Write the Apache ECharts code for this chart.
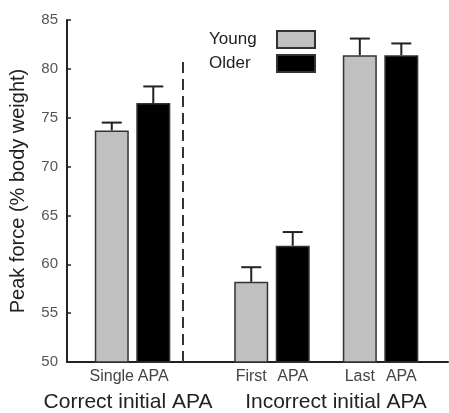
<!DOCTYPE html>
<html>
<head>
<meta charset="utf-8">
<script src="https://cdn.jsdelivr.net/npm/echarts@6/dist/echarts.min.js"></script>
<style>
  html, body { margin: 0; padding: 0; background: #fff; }
  #chart { width: 449px; height: 413px; }
</style>
</head>
<body>
<div id="chart"></div>
<script>
// values
const groups = ['Correct initial APA', 'Incorrect initial APA'];
const youngLabels = ['Single', 'First', 'Last'];
const olderLabels = ['APA', 'APA', 'APA'];
const young = [73.7, 58.2, 81.4];
const older = [76.5, 61.9, 81.4];
const youngErr = [0.8, 1.5, 1.7];
const olderErr = [1.7, 1.4, 1.2];
const yTicks = [50, 55, 60, 65, 70, 75, 80, 85];

// layout: where each condition sits on a hidden 0-100 x scale
const condPos = [17.2, 53.8, 82.3];
const dividerPos = 35.7;
const dividerTop = 81.2;
const groupCenters = [128, 336];

const FONT = '"Liberation Sans", Arial, sans-serif';
const BAR_W = 34;
const BAR_GAP = 7.5;
const HALF = (BAR_W + BAR_GAP) / 2;

const chart = echarts.init(document.getElementById('chart'));

const errData = young.map((v, i) => [condPos[i], v, youngErr[i], -1])
  .concat(older.map((v, i) => [condPos[i], v, olderErr[i], 1]));

const barLabel = (labels) => ({
  show: true,
  position: 'bottom',
  distance: 6,
  color: '#444',
  fontSize: 16,
  fontFamily: FONT,
  formatter: p => labels[p.dataIndex]
});

const option = {
  animation: false,
  backgroundColor: '#fff',
  grid: { left: 67, right: 1, top: 20, bottom: 51 },
  legend: {
    data: ['Young', 'Older'],
    orient: 'vertical',
    align: 'right',
    right: 128,
    top: 25,
    itemWidth: 38,
    itemHeight: 17,
    itemGap: 5,
    icon: 'rect',
    selectedMode: false,
    formatter: name => '{t|' + name + '}',
    textStyle: {
      fontSize: 17, color: '#222', fontFamily: FONT,
      rich: { t: { width: 52, align: 'left', fontSize: 17, color: '#222', fontFamily: FONT, padding: [0, 11, 0, 0] } }
    }
  },
  xAxis: {
    type: 'value',
    min: 0,
    max: 100,
    axisLine: { show: true, lineStyle: { color: '#222', width: 2 } },
    axisTick: { show: false },
    axisLabel: { show: false },
    splitLine: { show: false }
  },
  yAxis: {
    type: 'value',
    min: yTicks[0],
    max: yTicks[yTicks.length - 1],
    interval: yTicks[1] - yTicks[0],
    name: 'Peak force (% body weight)',
    nameLocation: 'middle',
    nameGap: 39,
    nameTextStyle: { fontSize: 20, color: '#222', fontFamily: FONT },
    axisLine: { show: true, lineStyle: { color: '#222', width: 2 } },
    axisTick: { show: true, inside: true, length: 4, lineStyle: { color: '#222', width: 1.5 } },
    axisLabel: { fontSize: 15, color: '#555', fontFamily: FONT, margin: 9 },
    splitLine: { show: false }
  },
  series: [
    {
      name: 'Young',
      type: 'bar',
      barWidth: BAR_W,
      barGap: (BAR_GAP / BAR_W * 100) + '%',
      data: young.map((v, i) => [condPos[i], v]),
      itemStyle: { color: '#c0c0c0', borderColor: '#333', borderWidth: 1.5 },
      label: barLabel(youngLabels),
      markLine: {
        silent: true,
        symbol: 'none',
        label: { show: false },
        lineStyle: { color: '#333', width: 2, type: [11, 6] },
        data: [[{ coord: [dividerPos, yTicks[0]] }, { coord: [dividerPos, dividerTop] }]]
      }
    },
    {
      name: 'Older',
      type: 'bar',
      barWidth: BAR_W,
      data: older.map((v, i) => [condPos[i], v]),
      itemStyle: { color: '#000', borderColor: '#333', borderWidth: 1.5 },
      label: barLabel(olderLabels)
    },
    {
      type: 'custom',
      silent: true,
      data: errData,
      z: 3,
      renderItem: (params, api) => {
        const p0 = api.coord([api.value(0), api.value(1)]);
        const p1 = api.coord([api.value(0), api.value(1) + api.value(2)]);
        const cx = p0[0] + api.value(3) * HALF;
        const st = { stroke: '#222', lineWidth: 2 };
        return {
          type: 'group',
          children: [
            { type: 'line', shape: { x1: cx, y1: p0[1], x2: cx, y2: p1[1] }, style: st },
            { type: 'line', shape: { x1: cx - 10, y1: p1[1], x2: cx + 10, y2: p1[1] }, style: st }
          ]
        };
      }
    }
  ],
  graphic: groups.map((g, i) => ({
    type: 'text',
    x: groupCenters[i],
    y: 402,
    style: { text: g, font: '21px ' + FONT, fill: '#222', align: 'center', verticalAlign: 'middle' }
  }))
};

chart.setOption(option);
</script>
</body>
</html>
